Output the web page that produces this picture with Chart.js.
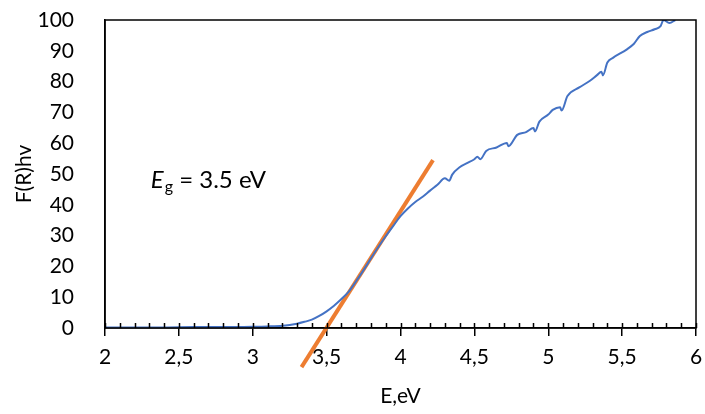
<!DOCTYPE html>
<html>
<head>
<meta charset="utf-8">
<script src="https://cdn.jsdelivr.net/npm/chart.js@4.4.1/dist/chart.umd.min.js"></script>
<style>
  html, body { margin: 0; padding: 0; background: #fff; }
  canvas { display: block; }
</style>
</head>
<body>
<canvas id="chart" width="705" height="414"></canvas>
<script>
// measured curve, F(R)hv vs E (eV)
const energy = [2.0, 2.2, 2.4, 2.6, 2.8, 3.0, 3.1, 3.2, 3.25, 3.3, 3.35, 3.4, 3.45, 3.5, 3.55, 3.6, 3.65,
  3.7, 3.75, 3.8, 3.85, 3.9, 3.95, 4.0, 4.05, 4.1, 4.15, 4.2, 4.25, 4.3, 4.33, 4.35, 4.4, 4.45, 4.5,
  4.52, 4.54, 4.58, 4.65, 4.72, 4.73, 4.79, 4.85, 4.9, 4.91, 4.94, 5.0, 5.03, 5.08, 5.09, 5.13, 5.21,
  5.28, 5.33, 5.36, 5.37, 5.40, 5.44, 5.53, 5.58, 5.62, 5.67, 5.72, 5.76, 5.78, 5.82, 5.86];
const fr = [0.2, 0.2, 0.2, 0.3, 0.3, 0.4, 0.5, 0.7, 1.0, 1.4, 2.0, 2.7, 3.9, 5.4, 7.2, 9.4, 11.8,
  15.2, 18.8, 22.6, 26.3, 29.8, 33.1, 36.3, 38.8, 40.9, 42.6, 44.6, 46.5, 48.6, 47.8, 49.8, 52.2, 53.5, 54.8,
  55.6, 54.8, 57.5, 58.6, 60.1, 59.0, 62.7, 63.6, 64.9, 63.8, 67.0, 69.3, 70.8, 71.7, 70.6, 75.3, 78.1,
  80.2, 82.1, 83.2, 82.0, 86.2, 87.8, 90.4, 92.3, 94.8, 96.1, 97.0, 98.0, 100, 99.0, 100];

// tangent line (Tauc extrapolation)
const fitX = [3.33, 4.22];
const fitY = [-12.7, 54.5];

const xMin = 2, xMax = 6, xStep = 0.5, xMinor = 0.1;
const yMin = 0, yMax = 100, yStep = 10;

const FONT = 'Lato, "Open Sans", sans-serif';
const FS = 21;

const framePlugin = {
  id: 'frame',
  afterDraw(chart) {
    const { ctx, chartArea: a, scales: { x, y } } = chart;
    ctx.save();
    ctx.strokeStyle = '#000';
    ctx.lineWidth = 1.5;
    ctx.strokeRect(a.left, a.top, a.right - a.left, a.bottom - a.top);

    // small inward ticks on the x axis
    ctx.beginPath();
    const n = Math.round((xMax - xMin) / xMinor);
    for (let i = 0; i <= n; i++) {
      const px = Math.round(x.getPixelForValue(xMin + i * xMinor)) + 0.5;
      ctx.moveTo(px, a.bottom);
      ctx.lineTo(px, a.bottom - 5);
    }
    ctx.stroke();

    // Eg label
    let tx = x.getPixelForValue(2.31);
    const ty = y.getPixelForValue(45.5);
    ctx.fillStyle = '#000';
    ctx.textBaseline = 'alphabetic';
    ctx.font = 'italic 24px ' + FONT;
    ctx.fillText('E', tx, ty);
    tx += ctx.measureText('E').width + 1;
    ctx.font = '16px ' + FONT;
    ctx.fillText('g', tx, ty + 4);
    tx += ctx.measureText('g').width;
    ctx.font = '24px ' + FONT;
    ctx.fillText(' = 3.5 eV', tx, ty);
    ctx.restore();
  }
};

new Chart(document.getElementById('chart'), {
  type: 'line',
  data: {
    datasets: [
      {
        data: energy.map((e, i) => ({ x: e, y: fr[i] })),
        borderColor: '#4472C4',
        borderWidth: 2,
        pointRadius: 0,
        cubicInterpolationMode: 'monotone'
      },
      {
        data: fitX.map((e, i) => ({ x: e, y: fitY[i] })),
        borderColor: '#ED7D31',
        borderWidth: 4,
        pointRadius: 0,
        clip: false
      }
    ]
  },
  options: {
    responsive: false,
    animation: false,
    layout: { padding: 0 },
    plugins: { legend: { display: false }, tooltip: { enabled: false } },
    scales: {
      x: {
        type: 'linear',
        min: xMin, max: xMax,
        afterFit(s) { s.height = 86; s.paddingLeft = 0; s.paddingRight = 9; },
        ticks: {
          stepSize: xStep,
          color: '#000',
          font: { family: FONT, size: FS },
          padding: 9,
          maxRotation: 0,
          callback: v => String(v).replace('.', ',')
        },
        grid: { drawOnChartArea: false, drawTicks: true, tickLength: 8, color: '#000', lineWidth: 1.5 },
        border: { display: true, color: '#000', width: 1.5 },
        title: { display: true, text: 'E,eV', color: '#000', font: { family: FONT, size: FS }, padding: { top: 0, bottom: 5 } }
      },
      y: {
        min: yMin, max: yMax,
        afterFit(s) { s.width = 105; s.paddingTop = 20; s.paddingBottom = 0; },
        ticks: {
          stepSize: yStep,
          color: '#000',
          font: { family: FONT, size: FS },
          padding: 23
        },
        grid: { display: false },
        border: { display: true, color: '#000', width: 1.5 },
        title: { display: true, text: 'F(R)hv', color: '#000', font: { family: FONT, size: FS }, padding: { top: 12, bottom: 0 } }
      }
    }
  },
  plugins: [framePlugin]
});
</script>
</body>
</html>
